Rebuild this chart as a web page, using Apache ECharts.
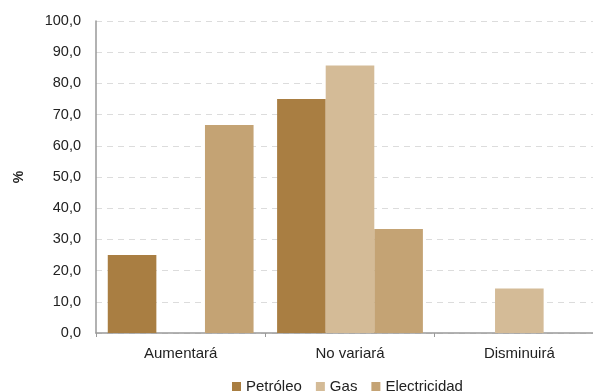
<!DOCTYPE html>
<html>
<head>
<meta charset="utf-8">
<script src="https://cdn.jsdelivr.net/npm/echarts@6/dist/echarts.min.js"></script>
<style>
  html, body { margin: 0; padding: 0; background: #fff; }
  #chart { width: 593px; height: 392px; }
</style>
</head>
<body>
<div id="chart"></div>
<script>
// Categories and percentages per energy source
const categories = ['Aumentará', 'No variará', 'Disminuirá'];
const petroleo = [25.0, 75.0, 0];
const gas = [0, 85.7, 14.3];
const electricidad = [66.7, 33.3, 0];
const seriesNames = ['Petróleo', 'Gas', 'Electricidad'];
const colors = ['#A97E42', '#D4BB97', '#C4A374'];

const font = '"Liberation Sans", Arial, sans-serif';
const chart = echarts.init(document.getElementById('chart'));

const makeSeries = (name, data, color) => ({
  name: name,
  type: 'bar',
  data: data,
  barWidth: 48.6,
  barGap: '0%',
  itemStyle: { color: color },
  emphasis: { disabled: true }
});

chart.setOption({
  animation: false,
  color: colors,
  grid: { left: 96, top: 21, width: 508, height: 312, containLabel: false, outerBoundsMode: 'none' },
  legend: {
    data: seriesNames,
    left: 227,
    top: 374,
    itemWidth: 9,
    itemHeight: 9,
    itemGap: 14,
    icon: 'rect',
    textStyle: { fontFamily: font, fontSize: 15, color: '#222' }
  },
  xAxis: {
    type: 'category',
    data: categories,
    axisLine: { lineStyle: { color: '#999', width: 1.5 } },
    axisTick: { show: true, length: 4, lineStyle: { color: '#999' } },
    axisLabel: { fontFamily: font, fontSize: 15, color: '#222', margin: 13 }
  },
  yAxis: {
    type: 'value',
    min: 0,
    max: 100,
    interval: 10,
    name: '%',
    nameLocation: 'middle',
    nameGap: 70,
    nameRotate: 90,
    nameTextStyle: { fontFamily: font, fontSize: 14, color: '#222', fontWeight: 'bold' },
    axisLine: { show: true, lineStyle: { color: '#999', width: 1.5 } },
    axisTick: { show: false },
    axisLabel: {
      fontFamily: font, fontSize: 14.5, color: '#222', margin: 15,
      formatter: v => v.toFixed(1).replace('.', ',')
    },
    splitLine: { lineStyle: { color: '#dcdcdc', type: [6, 5], width: 1.2 } }
  },
  series: [
    makeSeries(seriesNames[0], petroleo, colors[0]),
    makeSeries(seriesNames[1], gas, colors[1]),
    makeSeries(seriesNames[2], electricidad, colors[2])
  ]
});
</script>
</body>
</html>
